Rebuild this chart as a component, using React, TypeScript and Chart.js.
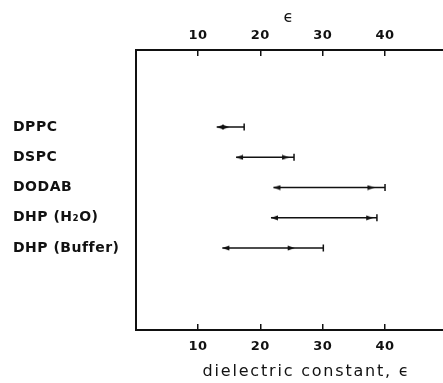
import { useEffect, useRef } from "react";
import { Chart, registerables } from "chart.js";

Chart.register(...registerables);

const categories = ["DPPC", "DSPC", "DODAB", "DHP (H₂O)", "DHP (Buffer)"];
const rowPositions = [1, 2, 3, 4, 5];
const rangeLow = [13.0, 16.1, 22.1, 21.7, 13.9];
const arrowHigh = [15.0, 24.6, 38.3, 38.1, 25.5];
const rangeHigh = [17.4, 25.4, 40.0, 38.7, 30.1];
const xTickValues = [10, 20, 30, 40];
const xTitle = "     dielectric constant, ϵ";
const topTitle = "ϵ";

function makeArrow(dir: "left" | "right"): HTMLCanvasElement {
  const c = document.createElement("canvas");
  c.width = 16;
  c.height = 6;
  const ctx = c.getContext("2d")!;
  ctx.fillStyle = "#111";
  ctx.beginPath();
  const tip = 8;
  const base = dir === "left" ? 15 : 1;
  ctx.moveTo(tip, 3);
  ctx.lineTo(base, 0.5);
  ctx.lineTo(base, 5.5);
  ctx.closePath();
  ctx.fill();
  return c;
}

// letter spacing: wider for axis titles (drawn in grid layer), narrow for tick labels
const tracking = {
  id: "tracking",
  beforeLayout(chart: any) {
    chart.ctx.letterSpacing = "0.5px";
  },
  beforeDraw(chart: any) {
    chart.ctx.letterSpacing = "1.8px";
  },
  beforeDatasetsDraw(chart: any) {
    chart.ctx.letterSpacing = "0.5px";
  },
};

export default function App() {
  const ref = useRef<HTMLCanvasElement | null>(null);
  useEffect(() => {
    if (!ref.current) return;
    const leftArrow = makeArrow("left");
    const rightArrow = makeArrow("right");
    const ink = "#111";
    const lineDatasets = categories.map((c, i) => ({
      label: c,
      data: [
        { x: rangeLow[i], y: rowPositions[i] },
        { x: rangeHigh[i], y: rowPositions[i] },
      ],
      showLine: true,
      borderColor: ink,
      borderWidth: 1.5,
      pointRadius: 0,
      xAxisID: "x",
      yAxisID: "y",
    }));
    const xCommon = (pos: "top" | "bottom") => ({
      type: "linear" as const,
      position: pos,
      min: 0,
      max: 49.3,
      afterBuildTicks: (s: any) => {
        s.ticks = xTickValues.map((v) => ({ value: v }));
      },
      grid: {
        drawOnChartArea: false,
        drawTicks: true,
        tickLength: -6,
        color: ink,
        lineWidth: 1.5,
      },
      border: { display: true, color: ink, width: 2 },
      ticks: {
        z: 1,
        color: ink,
        font: { family: "DejaVu Sans", size: 13, weight: "bold" as const },
        padding: pos === "bottom" ? 15 : 13,
        maxRotation: 0,
        autoSkip: false,
      },
      title: {
        display: true,
        text: pos === "bottom" ? xTitle : topTitle,
        color: ink,
        font: { family: "DejaVu Sans", size: 16, weight: "normal" as const },
        padding: pos === "bottom" ? { top: 0, bottom: 2 } : { top: 8, bottom: 0 },
      },
      afterFit: (s: any) => {
        s.height = pos === "bottom" ? 53 : 50;
      },
    });
    const chart = new Chart(ref.current, {
      type: "scatter",
      data: {
        datasets: [
          ...lineDatasets,
          {
            label: "low",
            data: rangeLow.map((v, i) => ({ x: v, y: rowPositions[i] })),
            pointStyle: leftArrow,
            pointRadius: 4,
            xAxisID: "x",
            yAxisID: "y",
          },
          {
            label: "high",
            data: arrowHigh.map((v, i) => ({ x: v, y: rowPositions[i] })),
            pointStyle: rightArrow,
            pointRadius: 4,
            xAxisID: "x",
            yAxisID: "y",
          },
          {
            label: "end",
            data: rangeHigh.map((v, i) => ({ x: v, y: rowPositions[i] })),
            pointStyle: "line",
            rotation: 90,
            pointRadius: 3.5,
            borderColor: ink,
            borderWidth: 1.5,
            xAxisID: "x",
            yAxisID: "y",
          },
        ] as any,
      },
      options: {
        animation: false,
        responsive: false,
        maintainAspectRatio: false,
        layout: { autoPadding: false, padding: { left: 13, right: 0, top: 0, bottom: 0 } },
        plugins: {
          legend: { display: false },
          tooltip: { enabled: false },
        },
        scales: {
          x: xCommon("bottom"),
          x2: xCommon("top"),
          y: {
            type: "linear",
            position: "left",
            reverse: true,
            min: -1.55,
            max: 7.71,
            afterBuildTicks: (s: any) => {
              s.ticks = rowPositions.map((v) => ({ value: v }));
            },
            afterFit: (s: any) => {
              s.width = 122.7;
            },
            grid: { drawOnChartArea: false, drawTicks: false },
            border: { display: true, color: ink, width: 2 },
            ticks: {
              z: 1,
              crossAlign: "far",
              color: ink,
              font: { family: "DejaVu Sans", size: 14, weight: "bold" },
              autoSkip: false,
              callback: (v: any) => {
                const idx = rowPositions.indexOf(Number(v));
                return idx >= 0 ? categories[idx] : "";
              },
            },
          },
        } as any,
      },
      plugins: [tracking],
    });
    return () => chart.destroy();
  }, []);
  return (
    <canvas
      ref={ref}
      width={443}
      height={383}
      style={{ position: "absolute", left: 0, top: 0, display: "block", background: "#fff" }}
    />
  );
}
